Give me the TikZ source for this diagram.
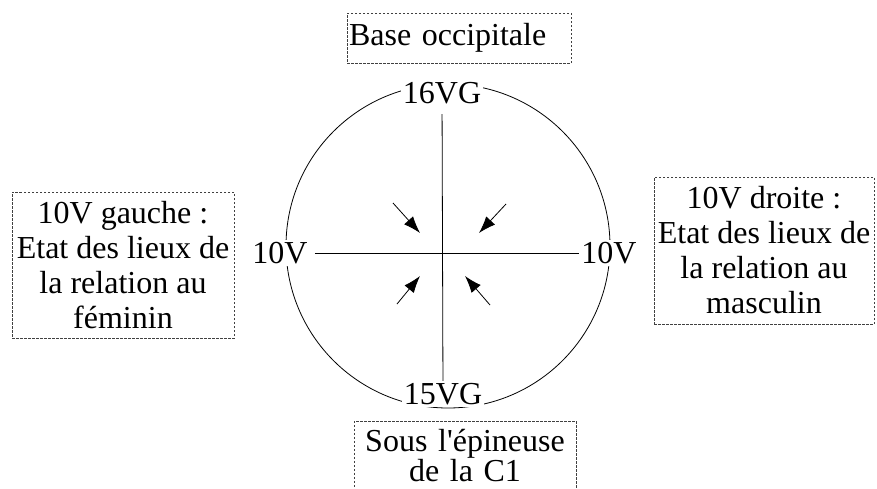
\documentclass[tikz,border=0pt]{standalone}
\usepackage{fontspec}
\setmainfont{Liberation Serif}
\usetikzlibrary{arrows.meta}
\begin{document}
\begin{tikzpicture}[x=1pt,y=-1pt,
  lbl/.style={fill=white,inner sep=2pt,font=\fontsize{32}{35}\selectfont},
  frame/.style={draw=black!75,dash pattern=on 2.5pt off 1.5pt,line width=0.8pt,
                font=\fontsize{32}{35}\selectfont},
  arr/.style={line width=0.8pt,-{Latex[length=17pt,width=12pt]}}]
\useasboundingbox (0,0) rectangle (877,488);
\clip (0,0) rectangle (877,488);
% circle
\draw[line width=0.8pt] (448,246) circle[radius=162];
% labels on the circle
\node[lbl] (t16) at (442,93) {16VG};
\node[lbl] (b15) at (443,394) {15VG};
\node[lbl] (l10) at (280,253) {10V};
\node[lbl] (r10) at (609,253) {10V};
% axes
\draw[line width=0.8pt,shorten <=8pt] (t16) -- (b15);
\draw[line width=0.8pt,shorten <=5pt] (l10) -- (r10);
% arrows
\coordinate (a1s) at (393,203); \coordinate (a1e) at (420,233);
\coordinate (a2s) at (506,204); \coordinate (a2e) at (479,233);
\coordinate (a3s) at (397,304); \coordinate (a3e) at (420,276);
\coordinate (a4s) at (490,305); \coordinate (a4e) at (465,276);
\draw[arr] (a1s) -- (a1e);
\draw[arr] (a2s) -- (a2e);
\draw[arr] (a3s) -- (a3e);
\draw[arr] (a4s) -- (a4e);
% boxes
\node[frame,text width=220pt,align=left,inner xsep=2pt,minimum height=50pt] (top) at (459,38) {Base occipitale};
\node[frame,align=center,minimum width=222pt,minimum height=146pt] (left) at (123,265)
  {10V gauche :\\Etat des lieux de\\la relation au\\féminin};
\node[frame,align=center,minimum width=220pt,minimum height=147pt] (right) at (764,250.5)
  {10V droite :\\Etat des lieux de\\la relation au\\masculin};
\node[frame,font=\fontsize{32}{29}\selectfont,text width=214pt,align=center,inner xsep=4pt,inner ysep=8pt,anchor=north] (bot) at (465,421)
  {Sous l\textquotesingle épineuse\\de la C1};
\end{tikzpicture}
\end{document}
